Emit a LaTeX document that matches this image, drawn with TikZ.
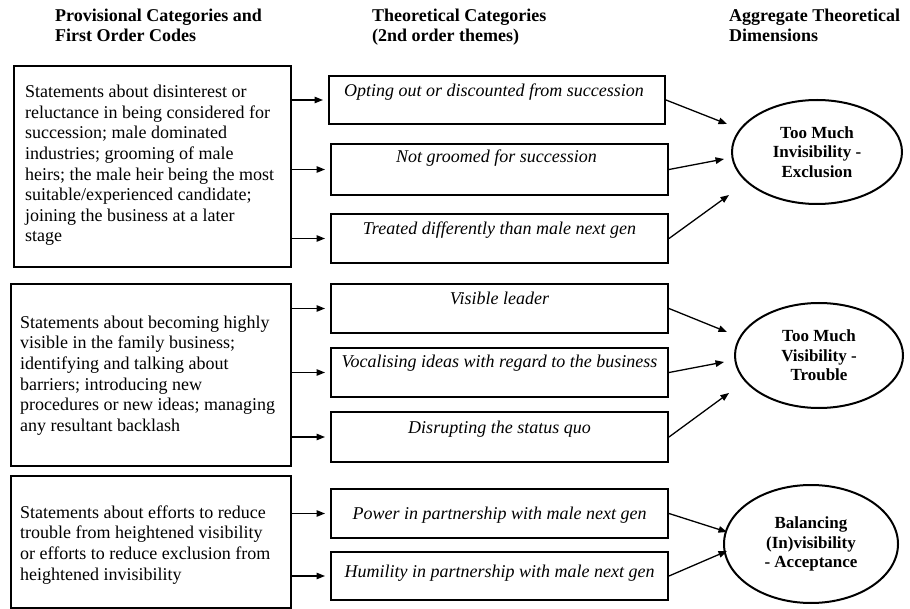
\documentclass[tikz,border=0pt]{standalone}
\usepackage{fontspec}
\setmainfont{Liberation Serif}
\usetikzlibrary{arrows.meta,calc,shapes.geometric}
\begin{document}
\begin{tikzpicture}[x=1pt,y=-1pt,
  hdr/.style={font=\fontsize{18}{20}\selectfont\bfseries, align=left, inner sep=0pt, anchor=north west},
  body/.style={font=\fontsize{18}{20.6}\selectfont, align=left, inner sep=0pt, anchor=north west},
  lbox/.style={draw, line width=2.2pt, inner sep=0pt, anchor=north west},
  mbox/.style={draw, line width=2pt, inner sep=0pt, anchor=north west, minimum width=337pt},
  ital/.style={font=\fontsize{18}{20}\selectfont\itshape, inner sep=0pt, anchor=base},
  ell/.style={draw, ellipse, line width=2pt, inner sep=0pt, align=center, font=\fontsize{17}{19.5}\selectfont\bfseries},
  arr/.style={line width=1.3pt, -{Triangle[length=8.5pt,width=6.5pt]}},
]
\useasboundingbox (0,0) rectangle (910,609);

% headers
\node[hdr] (H1) at (55,7.5) {\strut Provisional Categories and\\First Order Codes};
\node[hdr] (H2) at (372,7.5) {\strut Theoretical Categories\\(2nd order themes)};
\node[hdr] (H3) at (729,7.5) {\strut Aggregate Theoretical\\Dimensions};

% left boxes
\node[lbox, minimum width=277pt, minimum height=201pt] (L1) at (13,65) {};
\node[lbox, minimum width=280pt, minimum height=182pt] (L2) at (10,283) {};
\node[lbox, minimum width=280pt, minimum height=132pt] (L3) at (10,475) {};

\node[body] (T1) at (25,83) {\strut Statements about disinterest or\\reluctance in being considered for\\succession; male dominated\\industries; grooming of male\\heirs; the male heir being the most\\suitable/experienced candidate;\\joining the business at a later\\stage};
\node[body] (T2) at (20,313.6) {\strut Statements about becoming highly\\visible in the family business;\\identifying and talking about\\barriers; introducing new\\procedures or new ideas; managing\\any resultant backlash};
\node[body] (T3) at (20,503.6) {\strut Statements about efforts to reduce\\trouble from heightened visibility\\or efforts to reduce exclusion from\\heightened invisibility};

% middle boxes
\node[mbox, minimum width=336pt, minimum height=48pt] (M1) at (328,75) {};
\node[mbox, minimum height=51pt] (M2) at (330,143) {};
\node[mbox, minimum height=49pt] (M3) at (330,213) {};
\node[mbox, minimum height=49pt] (M4) at (330,283) {};
\node[mbox, minimum height=49pt] (M5) at (330,347) {};
\node[mbox, minimum height=50pt] (M6) at (330,411) {};
\node[mbox, minimum height=49pt] (M7) at (330,488) {};
\node[mbox, minimum height=48pt] (M8) at (330,551) {};

\node[ital] (M1t) at ($(M1.north)+(-3,22)$) {Opting out or discounted from succession};
\node[ital] (M2t) at ($(M2.north)+(-3,20)$) {Not groomed for succession};
\node[ital] (M3t) at ($(M3.north)+(0,22)$) {Treated differently than male next gen};
\node[ital] (M4t) at ($(M4.north)+(0,22)$) {Visible leader};
\node[ital] (M5t) at ($(M5.north)+(0,21)$) {Vocalising ideas with regard to the business};
\node[ital] (M6t) at ($(M6.north)+(0,22)$) {Disrupting the status quo};
\node[ital] (M7t) at ($(M7.north)+(0,31)$) {Power in partnership with male next gen};
\node[ital] (M8t) at ($(M8.north)+(0,26)$) {Humility in partnership with male next gen};

% ellipses
\node[ell, minimum width=170pt, minimum height=104pt] (E1) at (817,152) {Too Much\\Invisibility -\\Exclusion};
\node[ell, minimum width=168pt, minimum height=105pt] (E2) at (819,355.5) {Too Much\\Visibility -\\Trouble};
\node[ell, minimum width=174pt, minimum height=118pt] (E3) at (811,544) {Balancing\\(In)visibility\\- Acceptance};

\coordinate (E1a) at ($(E1.center)+(-90,-28)$);
\coordinate (E1b) at ($(E1.center)+(-93,7)$);
\coordinate (E1c) at ($(E1.center)+(-88,43)$);
\coordinate (E2a) at ($(E2.center)+(-92,-23.5)$);
\coordinate (E2b) at ($(E2.center)+(-95,6.5)$);
\coordinate (E2c) at ($(E2.center)+(-90,37.5)$);
\coordinate (E3a) at ($(E3.center)+(-84,-12)$);
\coordinate (E3b) at ($(E3.center)+(-84,7)$);

% arrows left -> middle
\foreach \m in {M1,M2,M3} \draw[arr, shorten >=5pt] (L1.east |- \m.west) -- (\m.west);
\foreach \m in {M4,M5,M6} \draw[arr, shorten >=5pt] (L2.east |- \m.west) -- (\m.west);
\foreach \m in {M7,M8} \draw[arr, shorten >=5pt] (L3.east |- \m.west) -- (\m.west);

% arrows middle -> ellipses
\draw[arr] (M1.east) -- (E1a);
\draw[arr] (M2.east) -- (E1b);
\draw[arr] (M3.east) -- (E1c);
\draw[arr] (M4.east) -- (E2a);
\draw[arr] (M5.east) -- (E2b);
\draw[arr] (M6.east) -- (E2c);
\draw[arr] (M7.east) -- (E3a);
\draw[arr] (M8.east) -- (E3b);
\end{tikzpicture}
\end{document}
